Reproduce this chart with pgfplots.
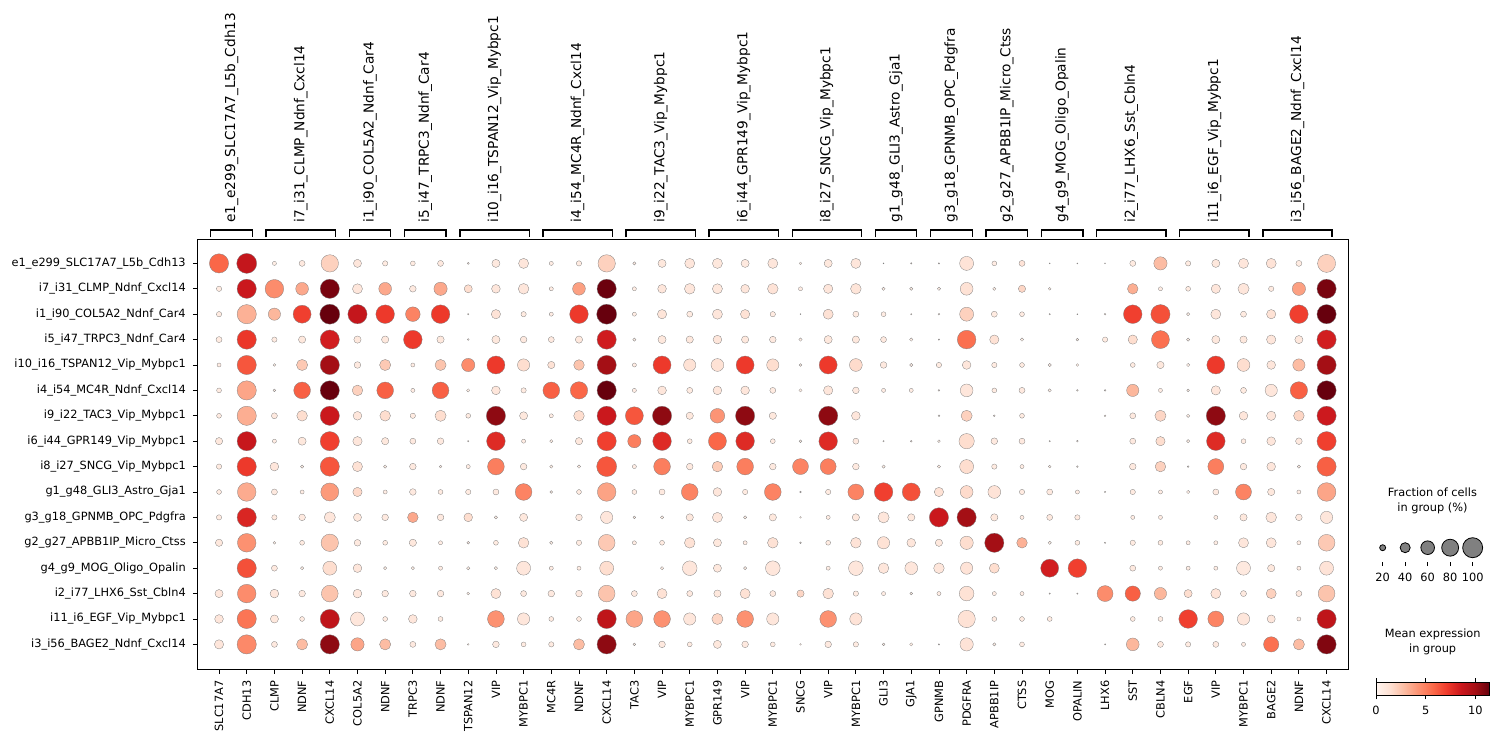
\documentclass[border=0pt]{standalone}
\usepackage{pgfplots}
\pgfplotsset{compat=1.18}
\usepackage{pgfplotstable}
\usepackage{fontspec}
\setmainfont{DejaVu Sans}

\pgfplotstableread[row sep=\\]{
x y f c\\
0 0 95 5.8\\ 1 0 100 8.8\\ 2 0 12 0.5\\ 3 0 20 0.8\\ 4 0 83 2.0\\ 5 0 30 1.0\\ 6 0 17 0.7\\ 7 0 15 0.7\\ 8 0 20 0.8\\ 9 0 5 0.5\\
10 0 30 0.8\\ 11 0 40 1.0\\ 12 0 12 0.6\\ 13 0 17 0.7\\ 14 0 83 2.0\\ 15 0 9 0.6\\ 16 0 30 0.9\\ 17 0 40 1.0\\ 18 0 40 0.9\\ 19 0 30 0.8\\
20 0 40 1.0\\ 21 0 7 0.5\\ 22 0 30 0.9\\ 23 0 40 1.0\\ 24 0 2 0.5\\ 25 0 3 0.5\\ 26 0 3 0.5\\ 27 0 62 1.2\\ 28 0 15 0.6\\ 29 0 20 1.2\\
30 0 2 0.5\\ 31 0 2 0.5\\ 32 0 2 0.5\\ 33 0 20 0.7\\ 34 0 58 2.8\\ 35 0 17 0.7\\ 36 0 30 0.9\\ 37 0 40 1.0\\ 38 0 40 1.2\\ 39 0 20 0.7\\ 40 0 87 2.0\\
0 1 17 0.7\\ 1 1 95 8.6\\ 2 1 91 4.5\\ 3 1 55 3.5\\ 4 1 95 11.0\\ 5 1 40 1.0\\ 6 1 55 3.5\\ 7 1 23 0.8\\ 8 1 58 3.5\\ 9 1 30 1.5\\
10 1 33 1.0\\ 11 1 43 1.0\\ 12 1 12 0.6\\ 13 1 55 3.8\\ 14 1 95 11.3\\ 15 1 12 0.6\\ 16 1 33 1.0\\ 17 1 43 1.0\\ 18 1 40 0.9\\ 19 1 33 1.0\\
20 1 43 1.2\\ 21 1 12 0.6\\ 22 1 36 1.0\\ 23 1 43 1.1\\ 24 1 9 0.5\\ 25 1 9 0.5\\ 26 1 9 0.5\\ 27 1 55 1.3\\ 28 1 9 0.5\\ 29 1 26 1.8\\
30 1 7 0.5\\ 33 1 43 3.3\\ 34 1 12 0.6\\ 35 1 15 0.7\\ 36 1 36 1.0\\ 37 1 46 1.0\\ 38 1 17 0.7\\ 39 1 58 3.8\\ 40 1 95 11.0\\
0 2 17 0.7\\ 1 2 95 3.2\\ 2 2 52 3.0\\ 3 2 87 7.0\\ 4 2 100 11.4\\ 5 2 95 8.8\\ 6 2 91 7.2\\ 7 2 66 4.8\\ 8 2 91 7.2\\ 9 2 3 0.5\\
10 2 36 1.2\\ 11 2 17 0.7\\ 12 2 12 0.6\\ 13 2 91 7.2\\ 14 2 100 11.4\\ 15 2 12 0.6\\ 16 2 36 1.1\\ 17 2 20 0.7\\ 18 2 40 1.0\\ 19 2 36 1.3\\
20 2 17 0.7\\ 21 2 2 0.5\\ 22 2 40 1.3\\ 23 2 20 0.7\\ 24 2 15 0.6\\ 25 2 3 0.5\\ 26 2 4 0.5\\ 27 2 62 2.0\\ 28 2 20 0.7\\ 29 2 15 0.7\\
30 2 3 0.5\\ 31 2 2 0.5\\ 32 2 4 0.5\\ 33 2 91 7.0\\ 34 2 95 6.5\\ 35 2 9 0.5\\ 36 2 40 1.0\\ 37 2 20 0.7\\ 38 2 36 1.3\\ 39 2 91 7.0\\ 40 2 95 11.4\\
0 3 20 0.7\\ 1 3 95 7.3\\ 2 3 17 0.7\\ 3 3 26 0.9\\ 4 3 95 8.3\\ 5 3 26 0.9\\ 6 3 26 0.9\\ 7 3 91 7.2\\ 8 3 26 0.9\\ 9 3 4 0.5\\
10 3 30 0.9\\ 11 3 23 0.8\\ 12 3 20 0.8\\ 13 3 26 0.9\\ 14 3 95 8.4\\ 15 3 9 0.5\\ 16 3 30 0.9\\ 17 3 26 0.9\\ 18 3 33 1.0\\ 19 3 26 0.9\\
20 3 23 0.8\\ 21 3 9 0.5\\ 22 3 30 0.9\\ 23 3 26 0.9\\ 24 3 20 0.8\\ 25 3 9 0.5\\ 26 3 3 0.5\\ 27 3 91 5.5\\ 28 3 36 1.3\\ 29 3 9 0.5\\
31 3 7 0.5\\ 32 3 17 0.7\\ 33 3 36 1.5\\ 34 3 87 5.5\\ 35 3 9 0.5\\ 36 3 30 0.9\\ 37 3 26 0.9\\ 38 3 36 1.0\\ 39 3 30 0.9\\ 40 3 95 8.3\\
0 4 12 0.6\\ 1 4 95 6.3\\ 2 4 7 0.5\\ 3 4 46 2.3\\ 4 4 95 10.0\\ 5 4 23 0.8\\ 6 4 46 2.3\\ 7 4 12 0.6\\ 8 4 46 2.5\\ 9 4 58 4.5\\
10 4 87 7.2\\ 11 4 52 1.5\\ 12 4 26 1.3\\ 13 4 43 2.5\\ 14 4 95 10.0\\ 15 4 12 0.6\\ 16 4 87 7.2\\ 17 4 52 1.3\\ 18 4 55 1.3\\ 19 4 87 7.2\\
20 4 52 1.5\\ 21 4 7 0.5\\ 22 4 87 7.2\\ 23 4 55 1.6\\ 24 4 23 0.8\\ 25 4 9 0.5\\ 26 4 17 0.7\\ 27 4 33 1.0\\ 28 4 17 0.7\\ 29 4 15 0.7\\
30 4 9 0.5\\ 31 4 7 0.5\\ 33 4 15 0.7\\ 34 4 26 0.9\\ 35 4 9 0.5\\ 36 4 87 7.2\\ 37 4 55 1.5\\ 38 4 33 1.0\\ 39 4 52 2.8\\ 40 4 95 10.0\\
0 5 15 0.7\\ 1 5 95 3.6\\ 2 5 7 0.5\\ 3 5 79 6.0\\ 4 5 95 11.4\\ 5 5 43 2.0\\ 6 5 79 6.0\\ 7 5 12 0.6\\ 8 5 79 6.0\\ 9 5 9 0.5\\
10 5 33 1.0\\ 11 5 17 0.7\\ 12 5 79 6.0\\ 13 5 83 5.8\\ 14 5 95 11.4\\ 15 5 12 0.6\\ 16 5 33 1.0\\ 17 5 20 0.7\\ 18 5 33 1.0\\ 19 5 33 1.0\\
20 5 20 0.7\\ 21 5 9 0.5\\ 22 5 36 1.0\\ 23 5 23 0.8\\ 24 5 12 0.6\\ 25 5 12 0.6\\ 26 5 4 0.5\\ 27 5 55 1.0\\ 28 5 15 0.7\\ 29 5 20 0.8\\
30 5 9 0.5\\ 31 5 4 0.5\\ 32 5 4 0.5\\ 33 5 52 3.0\\ 34 5 12 0.6\\ 35 5 7 0.5\\ 36 5 36 1.0\\ 37 5 20 0.7\\ 38 5 52 1.0\\ 39 5 83 6.0\\ 40 5 95 11.4\\
0 6 15 0.7\\ 1 6 95 3.3\\ 2 6 20 0.8\\ 3 6 43 1.5\\ 4 6 95 8.6\\ 5 6 33 1.0\\ 6 6 43 1.5\\ 7 6 17 0.7\\ 8 6 46 1.5\\ 9 6 15 0.7\\
10 6 95 10.5\\ 11 6 30 0.9\\ 12 6 12 0.6\\ 13 6 43 1.5\\ 14 6 95 8.6\\ 15 6 87 6.3\\ 16 6 95 10.5\\ 17 6 26 0.9\\ 18 6 66 4.2\\ 19 6 95 10.5\\
20 6 26 0.9\\ 22 6 95 10.5\\ 23 6 33 1.0\\ 26 6 4 0.5\\ 27 6 46 2.0\\ 28 6 4 0.5\\ 29 6 15 0.7\\
32 6 4 0.5\\ 33 6 20 0.8\\ 34 6 46 1.8\\ 35 6 9 0.5\\ 36 6 95 10.5\\ 37 6 33 1.0\\ 38 6 36 1.0\\ 39 6 43 1.8\\ 40 6 95 8.5\\
0 7 26 0.9\\ 1 7 95 8.7\\ 2 7 12 0.6\\ 3 7 30 0.9\\ 4 7 95 7.0\\ 5 7 36 1.0\\ 6 7 26 0.9\\ 7 7 20 0.8\\ 8 7 23 0.8\\ 9 7 3 0.5\\
10 7 91 7.8\\ 11 7 12 0.6\\ 12 7 9 0.5\\ 13 7 26 0.9\\ 14 7 95 7.0\\ 15 7 58 5.0\\ 16 7 91 7.8\\ 17 7 15 0.7\\ 18 7 87 5.8\\ 19 7 91 7.8\\
20 7 15 0.7\\ 21 7 7 0.5\\ 22 7 91 7.8\\ 23 7 20 0.8\\ 24 7 3 0.5\\ 25 7 4 0.5\\ 26 7 7 0.5\\ 27 7 70 1.5\\ 28 7 23 0.8\\ 29 7 20 0.8\\
30 7 3 0.5\\ 31 7 4 0.5\\ 33 7 20 0.8\\ 34 7 36 1.5\\ 35 7 9 0.5\\ 36 7 91 7.8\\ 37 7 15 0.7\\ 38 7 33 1.0\\ 39 7 23 0.8\\ 40 7 95 7.0\\
0 8 17 0.7\\ 1 8 95 7.2\\ 2 8 33 1.0\\ 3 8 9 0.5\\ 4 8 95 6.3\\ 5 8 40 1.3\\ 6 8 9 0.5\\ 7 8 23 0.8\\ 8 8 7 0.5\\ 9 8 12 0.6\\
10 8 79 5.0\\ 11 8 23 0.8\\ 12 8 9 0.5\\ 13 8 9 0.5\\ 14 8 100 6.3\\ 15 8 12 0.6\\ 16 8 79 5.0\\ 17 8 23 0.8\\ 18 8 43 2.2\\ 19 8 79 5.0\\
20 8 23 0.8\\ 21 8 74 4.8\\ 22 8 74 5.0\\ 23 8 23 0.8\\ 24 8 9 0.5\\ 26 8 9 0.5\\ 27 8 62 1.5\\ 28 8 17 0.7\\ 29 8 12 0.6\\
30 8 7 0.5\\ 31 8 4 0.5\\ 33 8 23 0.8\\ 34 8 43 2.0\\ 35 8 4 0.5\\ 36 8 74 5.0\\ 37 8 23 0.8\\ 38 8 33 1.0\\ 39 8 9 0.5\\ 40 8 95 6.0\\
0 9 15 0.7\\ 1 9 91 3.4\\ 2 9 20 0.8\\ 3 9 12 0.6\\ 4 9 87 4.0\\ 5 9 36 1.7\\ 6 9 12 0.6\\ 7 9 23 0.8\\ 8 9 15 0.7\\ 9 9 17 0.7\\
10 9 20 0.8\\ 11 9 79 4.8\\ 12 9 7 0.5\\ 13 9 15 0.7\\ 14 9 91 3.7\\ 15 9 15 0.7\\ 16 9 20 0.8\\ 17 9 79 4.8\\ 18 9 33 1.0\\ 19 9 17 0.7\\
20 9 79 4.8\\ 21 9 4 0.5\\ 22 9 17 0.7\\ 23 9 74 4.8\\ 24 9 91 7.0\\ 25 9 87 6.5\\ 26 9 36 1.3\\ 27 9 55 1.6\\ 28 9 55 1.2\\ 29 9 17 0.7\\
30 9 20 0.8\\ 31 9 12 0.6\\ 32 9 3 0.5\\ 33 9 17 0.7\\ 34 9 12 0.6\\ 35 9 9 0.5\\ 36 9 20 0.8\\ 37 9 74 4.8\\ 38 9 26 0.9\\ 39 9 12 0.6\\ 40 9 91 3.6\\
0 10 17 0.7\\ 1 10 95 8.0\\ 2 10 17 0.7\\ 3 10 23 0.8\\ 4 10 46 1.0\\ 5 10 30 0.9\\ 6 10 23 0.8\\ 7 10 43 3.5\\ 8 10 23 0.8\\ 9 10 33 1.5\\
10 10 9 0.5\\ 11 10 30 0.9\\ 13 10 23 0.8\\ 14 10 52 1.0\\ 15 10 7 0.5\\ 16 10 9 0.5\\ 17 10 26 0.9\\ 18 10 40 1.0\\ 19 10 9 0.5\\
20 10 26 0.9\\ 21 10 4 0.5\\ 22 10 12 0.6\\ 23 10 26 0.9\\ 24 10 46 1.0\\ 25 10 26 0.9\\ 26 10 95 8.6\\ 27 10 95 10.0\\ 28 10 26 0.9\\ 29 10 12 0.6\\
30 10 20 0.8\\ 31 10 17 0.7\\ 33 10 12 0.6\\ 34 10 12 0.6\\ 36 10 12 0.6\\ 37 10 26 0.9\\ 38 10 43 1.0\\ 39 10 23 0.8\\ 40 10 52 1.0\\
0 11 26 0.9\\ 1 11 91 4.3\\ 2 11 7 0.5\\ 3 11 15 0.7\\ 4 11 83 2.5\\ 5 11 23 0.8\\ 6 11 15 0.7\\ 7 11 26 0.9\\ 8 11 12 0.6\\ 9 11 7 0.5\\
10 11 15 0.7\\ 11 11 43 1.3\\ 12 11 9 0.5\\ 13 11 17 0.7\\ 14 11 79 2.3\\ 15 11 12 0.6\\ 16 11 15 0.7\\ 17 11 43 1.3\\ 18 11 30 0.9\\ 19 11 12 0.6\\
20 11 43 1.3\\ 21 11 4 0.5\\ 22 11 15 0.7\\ 23 11 43 1.2\\ 24 11 52 1.3\\ 25 11 33 1.0\\ 26 11 26 0.9\\ 27 11 58 1.5\\ 28 11 95 10.0\\ 29 11 43 3.2\\
30 11 9 0.5\\ 31 11 15 0.7\\ 32 11 3 0.5\\ 33 11 17 0.7\\ 34 11 15 0.7\\ 35 11 12 0.6\\ 36 11 12 0.6\\ 37 11 40 1.0\\ 38 11 40 1.0\\ 39 11 12 0.6\\ 40 11 79 2.3\\
1 12 95 6.5\\ 2 12 20 0.8\\ 3 12 9 0.5\\ 4 12 62 1.5\\ 5 12 33 1.0\\ 6 12 9 0.5\\ 7 12 9 0.5\\ 8 12 12 0.6\\ 9 12 9 0.5\\
10 12 9 0.5\\ 11 12 62 1.0\\ 12 12 12 0.6\\ 13 12 12 0.6\\ 14 12 62 1.5\\ 16 12 9 0.5\\ 17 12 66 1.0\\ 18 12 30 0.9\\ 19 12 9 0.5\\
20 12 66 1.0\\ 22 12 12 0.6\\ 23 12 66 1.0\\ 24 12 43 1.0\\ 25 12 55 1.0\\ 26 12 43 1.0\\ 27 12 52 1.2\\ 28 12 40 1.5\\
30 12 87 8.3\\ 31 12 91 7.0\\ 33 12 20 0.8\\ 34 12 12 0.6\\ 35 12 12 0.6\\ 36 12 12 0.6\\ 37 12 62 0.8\\ 38 12 26 0.9\\ 39 12 12 0.6\\ 40 12 62 1.2\\
0 13 30 1.0\\ 1 13 91 4.5\\ 2 13 33 1.0\\ 3 13 23 0.8\\ 4 13 79 2.5\\ 5 13 33 1.0\\ 6 13 23 0.8\\ 7 13 23 0.8\\ 8 13 23 0.8\\ 9 13 7 0.5\\
10 13 40 1.3\\ 11 13 20 0.8\\ 12 13 23 0.8\\ 13 13 23 0.8\\ 14 13 79 2.5\\ 15 13 20 0.8\\ 16 13 40 1.3\\ 17 13 20 0.8\\ 18 13 26 0.9\\ 19 13 40 1.3\\
20 13 20 0.8\\ 21 13 26 1.8\\ 22 13 43 1.3\\ 23 13 17 0.7\\ 24 13 12 0.6\\ 25 13 7 0.5\\ 26 13 12 0.6\\ 27 13 66 1.3\\ 28 13 12 0.6\\ 29 13 12 0.6\\
30 13 3 0.5\\ 31 13 3 0.5\\ 32 13 74 4.5\\ 33 13 70 6.0\\ 34 13 52 3.0\\ 35 13 30 1.5\\ 36 13 40 1.2\\ 37 13 20 0.8\\ 38 13 40 2.0\\ 39 13 20 0.8\\ 40 13 79 2.5\\
0 14 33 1.0\\ 1 14 95 5.3\\ 2 14 30 0.9\\ 3 14 15 0.7\\ 4 14 95 9.0\\ 5 14 62 1.0\\ 6 14 15 0.7\\ 7 14 33 1.0\\ 8 14 15 0.7\\
10 14 79 4.3\\ 11 14 52 1.0\\ 12 14 15 0.7\\ 13 14 15 0.7\\ 14 14 95 9.0\\ 15 14 79 3.6\\ 16 14 79 4.3\\ 17 14 52 1.0\\ 18 14 46 1.8\\ 19 14 79 4.3\\
20 14 52 1.0\\ 22 14 79 4.3\\ 23 14 52 1.2\\ 27 14 83 1.3\\ 28 14 15 0.7\\ 29 14 15 0.7\\
30 14 15 0.7\\ 33 14 15 0.7\\ 34 14 15 0.7\\ 35 14 91 7.0\\ 36 14 74 4.8\\ 37 14 52 1.0\\ 38 14 30 1.0\\ 39 14 12 0.6\\ 40 14 95 9.0\\
0 15 36 1.0\\ 1 15 95 4.6\\ 2 15 20 0.8\\ 3 15 46 2.8\\ 4 15 95 10.5\\ 5 15 58 3.6\\ 6 15 46 2.8\\ 7 15 20 0.8\\ 8 15 46 2.8\\ 9 15 4 0.5\\
10 15 23 0.8\\ 11 15 15 0.7\\ 12 15 17 0.7\\ 13 15 46 2.8\\ 14 15 95 10.5\\ 15 15 7 0.5\\ 16 15 23 0.8\\ 17 15 15 0.7\\ 18 15 30 0.9\\ 19 15 23 0.8\\
20 15 15 0.7\\ 21 15 4 0.5\\ 22 15 23 0.8\\ 23 15 17 0.7\\ 24 15 7 0.5\\ 25 15 9 0.5\\ 26 15 3 0.5\\ 27 15 58 1.2\\ 28 15 9 0.5\\ 29 15 15 0.7\\
32 15 3 0.5\\ 33 15 55 3.0\\ 34 15 20 0.8\\ 35 15 17 0.7\\ 36 15 20 0.8\\ 37 15 12 0.6\\ 38 15 70 5.5\\ 39 15 46 2.8\\ 40 15 95 10.8\\
}\dotdata

\pgfplotstableread[row sep=\\]{
f y\\
20 0\\ 40 0\\ 60 0\\ 80 0\\ 100 0\\
}\sizelegend

\newcommand{\lbl}{\fontsize{5.68pt}{7.5pt}\selectfont}
\newcommand{\grp}{\fontsize{6.85pt}{8pt}\selectfont}
\newcommand{\brk}[2]{\draw[line width=0.65pt] (axis cs:#1,-1.027) -- (axis cs:#1,-1.314) -- (axis cs:#2,-1.314) -- (axis cs:#2,-1.027);}
\newcommand{\glab}[2]{\node[rotate=90, anchor=west, inner sep=0pt, font=\grp] at ([yshift=8pt]axis cs:#1,-0.96) {#2};}

\begin{document}
\begin{tikzpicture}
\useasboundingbox (0,0) rectangle (749pt,370.5pt);
\begin{axis}[
  at={(98.65pt,36pt)}, anchor=south west,
  scale only axis, width=575.5pt, height=215pt,
  xmin=-0.785, xmax=40.785, ymin=-0.96, ymax=15.97, y dir=reverse,
  xtick={0,...,40},
  xticklabels={SLC17A7,CDH13,CLMP,NDNF,CXCL14,COL5A2,NDNF,TRPC3,NDNF,TSPAN12,VIP,MYBPC1,MC4R,NDNF,CXCL14,TAC3,VIP,MYBPC1,GPR149,VIP,MYBPC1,SNCG,VIP,MYBPC1,GLI3,GJA1,GPNMB,PDGFRA,APBB1IP,CTSS,MOG,OPALIN,LHX6,SST,CBLN4,EGF,VIP,MYBPC1,BAGE2,NDNF,CXCL14},
  ytick={0,...,15},
  yticklabels={e1\_e299\_SLC17A7\_L5b\_Cdh13,i7\_i31\_CLMP\_Ndnf\_Cxcl14,i1\_i90\_COL5A2\_Ndnf\_Car4,i5\_i47\_TRPC3\_Ndnf\_Car4,i10\_i16\_TSPAN12\_Vip\_Mybpc1,i4\_i54\_MC4R\_Ndnf\_Cxcl14,i9\_i22\_TAC3\_Vip\_Mybpc1,i6\_i44\_GPR149\_Vip\_Mybpc1,i8\_i27\_SNCG\_Vip\_Mybpc1,g1\_g48\_GLI3\_Astro\_Gja1,g3\_g18\_GPNMB\_OPC\_Pdgfra,g2\_g27\_APBB1IP\_Micro\_Ctss,g4\_g9\_MOG\_Oligo\_Opalin,i2\_i77\_LHX6\_Sst\_Cbln4,i11\_i6\_EGF\_Vip\_Mybpc1,i3\_i56\_BAGE2\_Ndnf\_Cxcl14},
  x tick label style={rotate=90, anchor=east, font=\lbl},
  y tick label style={font=\lbl},
  tick align=outside, major tick length=2.25pt,
  xtick pos=bottom, ytick pos=left,
  tick style={black, line width=0.4pt},
  axis line style={line width=0.4pt},
  clip=false,
  colormap={reds}{rgb255=(255,245,240) rgb255=(254,224,210) rgb255=(252,187,161) rgb255=(252,146,114) rgb255=(251,106,74) rgb255=(239,59,44) rgb255=(203,24,29) rgb255=(165,15,21) rgb255=(103,0,13)},
  point meta min=0, point meta max=11.4,
  colorbar horizontal,
  colorbar style={
    at={(parent axis.south east)}, anchor=south west,
    xshift=13.85pt, yshift=-4.65pt,
    scale only axis, width=56.65pt, height=6.65pt,
    xtick={0,5,10}, xticklabel pos=lower,
    tick align=outside, major tick length=2pt,
    xticklabel style={font=\lbl, /pgf/number format/assume math mode=true},
    title={Mean expression\\in group},
    title style={align=center, font=\lbl, yshift=4pt},
    axis line style={line width=0.4pt},
  },
]
\addplot[scatter, only marks, mark=*,
  point meta=\thisrow{c},
  visualization depends on={\thisrow{f} \as \myf},
  scatter/use mapped color={draw=black!50, fill=mapped color},
  scatter/@pre marker code/.append style={/tikz/mark size={5*(\myf/100)^0.75}},
  mark options={line width=0.15pt}]
  table[x=x, y=y] {\dotdata};
\brk{-0.3}{1.2}\brk{1.7}{4.2}\brk{4.7}{6.2}\brk{6.7}{8.2}\brk{8.7}{11.2}\brk{11.7}{14.2}
\brk{14.7}{17.2}\brk{17.7}{20.2}\brk{20.7}{23.2}\brk{23.7}{25.2}\brk{25.7}{27.2}\brk{27.7}{29.2}
\brk{29.7}{31.2}\brk{31.7}{34.2}\brk{34.7}{37.2}\brk{37.7}{40.2}
\glab{0.45}{e1\_e299\_SLC17A7\_L5b\_Cdh13}
\glab{2.95}{i7\_i31\_CLMP\_Ndnf\_Cxcl14}
\glab{5.45}{i1\_i90\_COL5A2\_Ndnf\_Car4}
\glab{7.45}{i5\_i47\_TRPC3\_Ndnf\_Car4}
\glab{9.95}{i10\_i16\_TSPAN12\_Vip\_Mybpc1}
\glab{12.95}{i4\_i54\_MC4R\_Ndnf\_Cxcl14}
\glab{15.95}{i9\_i22\_TAC3\_Vip\_Mybpc1}
\glab{18.95}{i6\_i44\_GPR149\_Vip\_Mybpc1}
\glab{21.95}{i8\_i27\_SNCG\_Vip\_Mybpc1}
\glab{24.45}{g1\_g48\_GLI3\_Astro\_Gja1}
\glab{26.45}{g3\_g18\_GPNMB\_OPC\_Pdgfra}
\glab{28.45}{g2\_g27\_APBB1IP\_Micro\_Ctss}
\glab{30.45}{g4\_g9\_MOG\_Oligo\_Opalin}
\glab{32.95}{i2\_i77\_LHX6\_Sst\_Cbln4}
\glab{35.95}{i11\_i6\_EGF\_Vip\_Mybpc1}
\glab{38.95}{i3\_i56\_BAGE2\_Ndnf\_Cxcl14}
\end{axis}

\begin{axis}[
  at={(685.7pt,89.5pt)}, anchor=south west,
  scale only axis, width=56.25pt, height=14.3pt,
  xmin=10, xmax=110, ymin=-1, ymax=1,
  hide y axis, axis x line*=bottom, x axis line style={draw=none},
  xtick={20,40,60,80,100},
  tick align=outside, major tick length=2pt,
  tick style={black, line width=0.4pt},
  xticklabel style={font=\lbl, /pgf/number format/assume math mode=true},
  title={Fraction of cells\\in group (\%)},
  title style={align=center, font=\lbl, xshift=2.4pt},
  clip=false,
]
\addplot[scatter, only marks, mark=*,
  point meta=\thisrow{f},
  visualization depends on={\thisrow{f} \as \myf},
  scatter/use mapped color={draw=none, fill=black!50},
  scatter/@pre marker code/.append style={/tikz/mark size={5*(\myf/100)^0.75}}]
  table[x=f, y=y] {\sizelegend};
\end{axis}
\end{tikzpicture}
\end{document}
